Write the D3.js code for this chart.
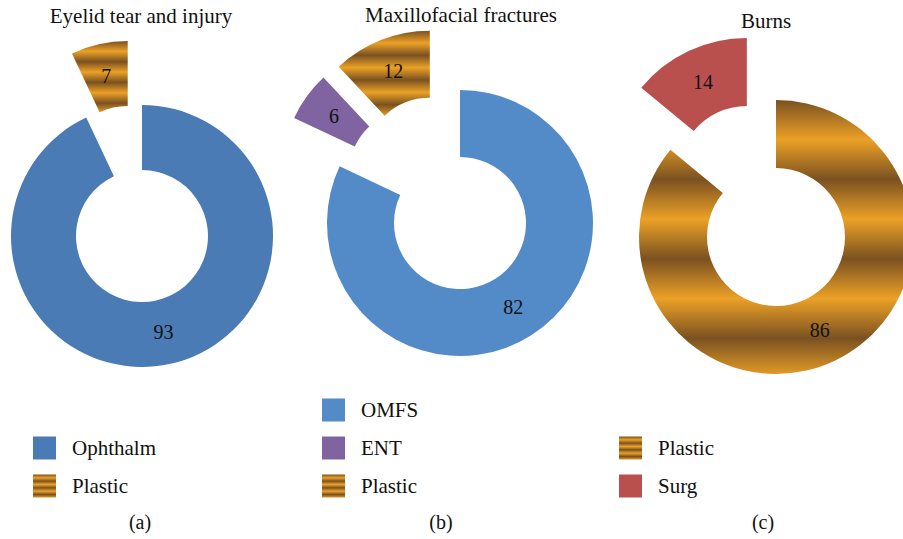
<!DOCTYPE html>
<html>
<head>
<meta charset="utf-8">
<script src="https://cdn.jsdelivr.net/npm/d3@7"></script>
<style>
  body { margin: 0; background: #fff; }
</style>
</head>
<body>
<div id="chart"></div>
<script>

var titles = ["Eyelid tear and injury", "Maxillofacial fractures", "Burns"],
    panelLabels = ["(a)", "(b)", "(c)"];

var eyelidCategories = ["Ophthalm", "Plastic"],
    eyelidValues = [93, 7],
    eyelidExploded = ["Plastic"];

var maxilloCategories = ["OMFS", "ENT", "Plastic"],
    maxilloValues = [82, 6, 12],
    maxilloExploded = ["ENT", "Plastic"];

var burnsCategories = ["Plastic", "Surg"],
    burnsValues = [86, 14],
    burnsExploded = ["Surg"];

var colors = {
  "Ophthalm": "#4a7bb4",
  "OMFS": "#538ac8",
  "ENT": "#8064a2",
  "Surg": "#b9504e",
  "Plastic": "url(#gold)"
};

// where each panel sits on the page
var layout = [
  {cx: 142, cy: 236, outer: 131, inner: 66, titleX: 141, titleY: 23, legendX: 33, labelX: 140},
  {cx: 460, cy: 223, outer: 133, inner: 66, titleX: 461, titleY: 22, legendX: 322, labelX: 441},
  {cx: 776, cy: 237, outer: 137, inner: 69, titleX: 766, titleY: 28, legendX: 619, labelX: 763}
];

var panels = [
  {categories: eyelidCategories, values: eyelidValues, exploded: eyelidExploded},
  {categories: maxilloCategories, values: maxilloValues, exploded: maxilloExploded},
  {categories: burnsCategories, values: burnsValues, exploded: burnsExploded}
];

var width = 903, height = 539;

var svg = d3.select("#chart").append("svg")
  .attr("width", width)
  .attr("height", height)
  .attr("font-family", "Liberation Serif")
  .attr("fill", "#111");

var grad = svg.append("defs").append("linearGradient")
  .attr("id", "gold")
  .attr("x1", 0).attr("y1", 0)
  .attr("x2", 0).attr("y2", 0.29)
  .attr("spreadMethod", "repeat");

grad.selectAll("stop")
  .data([["0", "#7a5121"], ["0.5", "#eca126"], ["1", "#7a5121"]])
  .enter().append("stop")
  .attr("offset", function(d) { return d[0]; })
  .attr("stop-color", function(d) { return d[1]; });

var pie = d3.pie()
  .sort(null)
  .value(function(d) { return d.value; });

panels.forEach(function(p, i) {
  var L = layout[i],
      items = p.categories.map(function(c, k) { return {name: c, value: p.values[k]}; }),
      arcs = pie(items),
      arc = d3.arc().innerRadius(L.inner).outerRadius(L.outer),
      mid = (L.inner + L.outer) / 2,
      labelArc = d3.arc().innerRadius(mid).outerRadius(mid);

  // mid angle of the whole exploded group, blended with each slice's own
  var ex = arcs.filter(function(a) { return p.exploded.indexOf(a.data.name) >= 0; }),
      groupMid = (d3.min(ex, function(a) { return a.startAngle; }) + d3.max(ex, function(a) { return a.endAngle; })) / 2;

  function offset(a) {
    if (p.exploded.indexOf(a.data.name) < 0) return [0, 0];
    var ang = ((a.startAngle + a.endAngle) / 2 + groupMid) / 2,
        dist = L.outer * 0.5;
    return [dist * Math.sin(ang), -dist * Math.cos(ang)];
  }

  var g = svg.append("g")
    .attr("transform", "translate(" + L.cx + "," + L.cy + ")");

  var slice = g.selectAll("g.slice")
    .data(arcs)
    .enter().append("g")
    .attr("class", "slice")
    .attr("transform", function(a) { return "translate(" + offset(a) + ")"; });

  slice.append("path")
    .attr("d", arc)
    .attr("fill", function(a) { return colors[a.data.name]; });

  slice.append("text")
    .attr("transform", function(a) { return "translate(" + labelArc.centroid(a) + ")"; })
    .attr("text-anchor", "middle")
    .attr("dy", "0.35em")
    .attr("font-size", 20)
    .text(function(a) { return a.data.value; });

  svg.append("text")
    .attr("x", L.titleX)
    .attr("y", L.titleY)
    .attr("text-anchor", "middle")
    .attr("font-size", 21)
    .text(titles[i]);

  var rowGap = 38, lastRow = 486,
      n = items.length;

  var leg = svg.selectAll("g.leg" + i)
    .data(items)
    .enter().append("g")
    .attr("class", "leg" + i)
    .attr("transform", function(d, k) {
      return "translate(" + L.legendX + "," + (lastRow - (n - 1 - k) * rowGap) + ")";
    });

  leg.append("rect")
    .attr("x", 0)
    .attr("y", -11.5)
    .attr("width", 23)
    .attr("height", 23)
    .attr("fill", function(d) { return colors[d.name]; });

  leg.append("text")
    .attr("x", 39)
    .attr("dy", "0.33em")
    .attr("font-size", 21)
    .text(function(d) { return d.name; });

  svg.append("text")
    .attr("x", L.labelX)
    .attr("y", 529)
    .attr("text-anchor", "middle")
    .attr("font-size", 20)
    .text(panelLabels[i]);
});

</script>
</body>
</html>
